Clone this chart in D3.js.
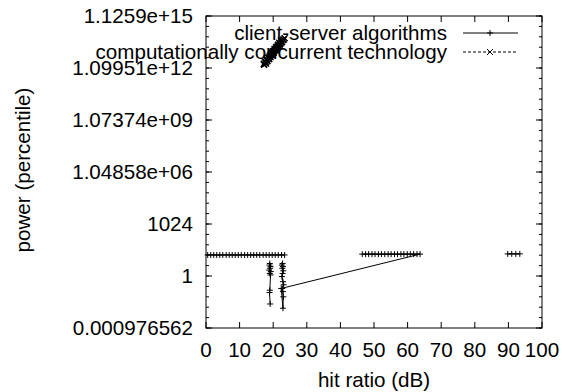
<html>
<head>
    <meta charset="UTF-8">
    <script src="https://cdnjs.cloudflare.com/ajax/libs/d3/7.8.5/d3.min.js"></script>
    <style>
        body { margin: 0; background: #fff; }
        text { font-family: "Liberation Sans", Arial, sans-serif; font-size: 20.6px; fill: #000; }
    </style>
</head>
<body>
    <svg id="chart" width="562" height="392"></svg>
    <script>
        // client-server algorithms (null = break in the line)
        var clientServerX = [0.5, 1.4, 2.3, 3.2, 4.1, 5.0, 6.0, 6.9, 7.8, 8.7, 9.6, 10.5, 11.5, 12.4, 13.3, 14.2, 15.1, 16.0, 17.0, 17.9, 18.8, 19.7, 20.6, 21.5, 22.5, 23.4,
            null,
            19.0, 18.9, 19.2, 19.1, 18.8, 19.3, 19.0, 19.2, 19.0, 18.9, 19.1,
            null,
            22.8, 22.6, 22.9, 22.7, 23.0, 22.8, 22.6, 22.9, 23.1, 22.7, 22.9, 23.0, 22.9, 22.4,
            63.7, 62.8, 61.8, 60.8, 59.9, 58.9, 58.0, 57.0, 56.1, 55.1, 54.2, 53.2, 52.2, 51.3, 50.3, 49.4, 48.4, 47.5, 46.5,
            null,
            89.8, 91.0, 92.2, 93.4];
        var clientServerY = [16.5, 16.5, 16.6, 16.5, 16.4, 16.5, 16.6, 16.5, 16.5, 16.4, 16.5, 16.6, 16.5, 16.5, 16.4, 16.5, 16.6, 16.5, 16.5, 16.5, 16.4, 16.5, 16.6, 16.5, 16.5, 16.5,
            null,
            5.3, 4.3, 3.5, 2.8, 2.2, 1.8, 1.4, 1.15, 0.15, 0.11, 0.024,
            null,
            5.3, 4.3, 3.5, 2.8, 2.0, 1.4, 0.93, 0.47, 0.31, 0.19, 0.125, 0.0625, 0.0136, 0.19,
            18.5, 18.4, 18.5, 18.3, 18.5, 18.4, 18.5, 18.3, 18.5, 18.4, 18.5, 18.4, 18.5, 18.3, 18.5, 18.4, 18.5, 18.4, 18.5,
            null,
            19.0, 19.2, 19.0, 19.1];

        // computationally concurrent technology
        var concurrentX = [17.3, 17.9, 17.6, 18.3, 18.0, 18.8, 18.5, 19.2, 19.0, 19.7, 19.4, 20.2, 19.9, 20.7, 20.4, 21.1, 20.9, 21.6, 21.4, 22.1, 21.8, 22.6, 22.3, 23.1,
            23.4, 22.9, 22.4, 21.9, 21.3, 20.8, 20.3, 19.8, 19.3, 18.7, 18.2, 17.7, 17.2];
        var concurrentY = [1.7e12, 2.0e12, 2.4e12, 2.7e12, 3.2e12, 3.6e12, 4.3e12, 4.8e12, 5.7e12, 6.4e12, 7.6e12, 8.6e12, 1.02e13, 1.15e13, 1.36e13, 1.53e13, 1.8e13, 2.05e13, 2.4e13, 2.75e13, 3.2e13, 3.6e13, 4.3e13, 4.9e13,
            5.8e13, 4.6e13, 3.3e13, 2.5e13, 1.9e13, 1.45e13, 1.1e13, 8.2e12, 6.2e12, 4.4e12, 3.4e12, 2.5e12, 1.9e12];

        var xTicks = [0, 10, 20, 30, 40, 50, 60, 70, 80, 90, 100];
        var yTicks = [Math.pow(2, -10), 1, 1024, Math.pow(2, 20), Math.pow(2, 30), Math.pow(2, 40), Math.pow(2, 50)];
        var yTickLabels = ["0.000976562", "1", "1024", "1.04858e+06", "1.07374e+09", "1.09951e+12", "1.1259e+15"];

        var pLeft = 206, pRight = 542, pTop = 16, pBottom = 328;
        var svg = d3.select("#chart");

        var x = d3.scaleLinear().domain([0, 100]).range([pLeft, pRight]);
        var y = d3.scaleLog().base(2).domain([Math.pow(2, -10), Math.pow(2, 50)]).range([pBottom, pTop]);

        // minor y ticks every factor of 4
        var yMinor = d3.range(-10, 51, 2).map(e => Math.pow(2, e));

        var axes = svg.append("g").attr("stroke", "#000").attr("stroke-width", 1).attr("fill", "none");

        axes.selectAll("line.ymin").data(yMinor).enter().append("line")
            .attr("x1", pLeft).attr("x2", pLeft + 3)
            .attr("y1", d => y(d)).attr("y2", d => y(d));
        axes.selectAll("line.ymin2").data(yMinor).enter().append("line")
            .attr("x1", pRight).attr("x2", pRight - 3)
            .attr("y1", d => y(d)).attr("y2", d => y(d));
        axes.selectAll("line.ymaj").data(yTicks).enter().append("line")
            .attr("x1", pLeft).attr("x2", pLeft + 6)
            .attr("y1", d => y(d)).attr("y2", d => y(d));
        axes.selectAll("line.ymaj2").data(yTicks).enter().append("line")
            .attr("x1", pRight).attr("x2", pRight - 6)
            .attr("y1", d => y(d)).attr("y2", d => y(d));
        axes.selectAll("line.xb").data(xTicks).enter().append("line")
            .attr("x1", d => x(d)).attr("x2", d => x(d))
            .attr("y1", pBottom).attr("y2", pBottom - 6);
        axes.selectAll("line.xt").data(xTicks).enter().append("line")
            .attr("x1", d => x(d)).attr("x2", d => x(d))
            .attr("y1", pTop).attr("y2", pTop + 6);

        axes.append("rect")
            .attr("x", pLeft).attr("y", pTop)
            .attr("width", pRight - pLeft).attr("height", pBottom - pTop);

        svg.selectAll("text.ytick").data(yTicks).enter().append("text")
            .attr("x", 193).attr("y", d => y(d))
            .attr("dy", "0.36em")
            .style("text-anchor", "end")
            .text((d, i) => yTickLabels[i]);

        svg.selectAll("text.xtick").data(xTicks).enter().append("text")
            .attr("x", d => x(d)).attr("y", 350)
            .attr("dy", "0.36em")
            .style("text-anchor", "middle")
            .text(d => d);

        svg.append("text")
            .attr("x", 374).attr("y", 380).attr("dy", "0.36em")
            .style("text-anchor", "middle")
            .text("hit ratio (dB)");

        svg.append("text")
            .attr("transform", "translate(23,170) rotate(-90)")
            .attr("dy", "0.36em")
            .style("text-anchor", "middle")
            .text("power (percentile)");

        var plus = "M-3,0h6M0,-3v6";
        var cross = "M-3,-3l6,6M-3,3l6,-6";

        function drawSeries(xs, ys, label, ly, marker, dash) {
            // legend entry
            svg.append("text")
                .attr("x", 447).attr("y", ly).attr("dy", "0.36em")
                .style("text-anchor", "end")
                .text(label);
            svg.append("line")
                .attr("x1", 463).attr("x2", 518).attr("y1", ly).attr("y2", ly)
                .attr("stroke", "#000").attr("stroke-dasharray", dash);
            svg.append("path")
                .attr("d", marker)
                .attr("transform", `translate(490,${ly})`)
                .attr("stroke", "#000");

            var pts = xs.map((v, i) => ({ x: v, y: ys[i] }));
            var line = d3.line()
                .defined(d => d.y != null)
                .x(d => x(d.x))
                .y(d => y(d.y));
            svg.append("path")
                .datum(pts)
                .attr("d", line)
                .attr("fill", "none")
                .attr("stroke", "#000")
                .attr("stroke-dasharray", dash);
            svg.selectAll(null)
                .data(pts.filter(d => d.y != null))
                .enter()
                .append("path")
                .attr("d", marker)
                .attr("transform", d => `translate(${x(d.x)},${y(d.y)})`)
                .attr("stroke", "#000")
                .attr("stroke-width", dash ? 1.6 : 1);
        }

        drawSeries(clientServerX, clientServerY, "client-server algorithms", 33, plus, null);
        drawSeries(concurrentX, concurrentY, "computationally concurrent technology", 52, cross, "3,2");
    </script>
</body>
</html>
